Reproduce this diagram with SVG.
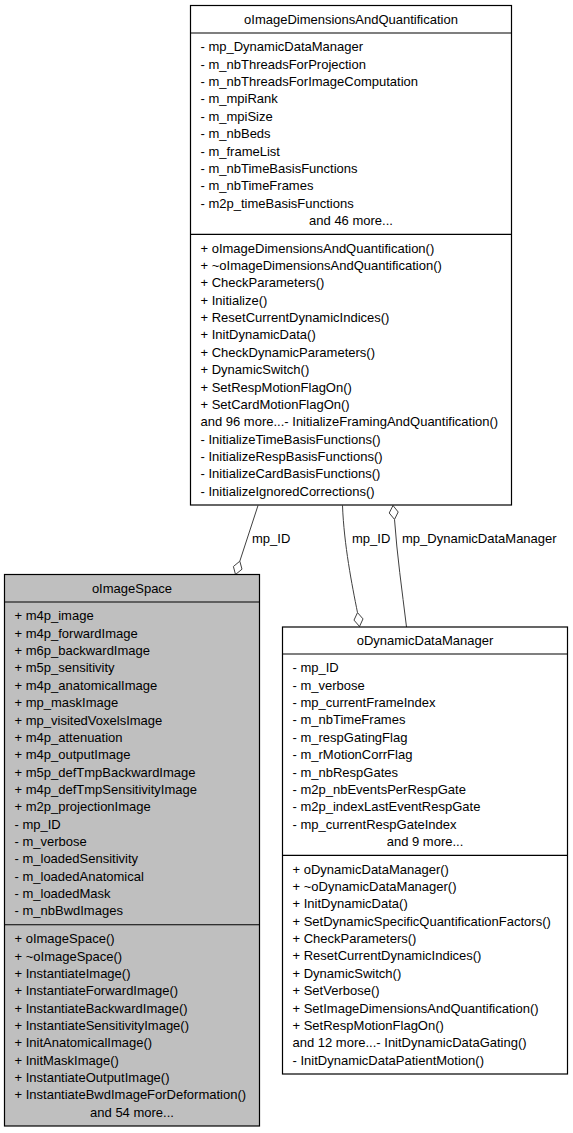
<svg xmlns="http://www.w3.org/2000/svg" width="573" height="1133" viewBox="0 0 573 1133">
<style>
.box{fill:#ffffff;stroke:#000000;stroke-width:1.2}
.cur{fill:#bfbfbf;stroke:#000000;stroke-width:1.2}
.sep{stroke:#000000;stroke-width:1.2}
text{font-family:"Liberation Sans",Arial,Helvetica,sans-serif;font-size:13px;fill:#000000}
.c{text-anchor:middle}
.edge{fill:none;stroke:#404040;stroke-width:1}
.dia{fill:#ffffff;stroke:#404040;stroke-width:1}
</style>
<rect width="573" height="1133" fill="#ffffff"/>
<g id="connectors">
<path class="edge" d="M258,505.5 L239.8,561.2"/>
<polygon class="dia" points="235.5,574.5 242,569.2 239.8,561.2 233.4,566.5"/>
<path class="edge" d="M342.5,505.5 C344,545 352,585 357.5,612.6"/>
<polygon class="dia" points="359.5,626.5 363,618.9 357.5,612.6 354,620.1"/>
<path class="edge" d="M394.5,519.4 C397,555 402,590 406.5,627"/>
<polygon class="dia" points="393,505.5 398.2,512 394.5,519.4 389.2,513"/>
<text x="252" y="542.5">mp_ID</text>
<text x="352" y="542.5">mp_ID</text>
<text x="402" y="542.5">mp_DynamicDataManager</text>
</g>
<g id="oImageDimensionsAndQuantification">
<rect class="box" x="190.5" y="5.5" width="321" height="499.5"/>
<line class="sep" x1="190.5" y1="33" x2="511.5" y2="33"/>
<line class="sep" x1="190.5" y1="234.3" x2="511.5" y2="234.3"/>
<text class="c" x="351" y="23.5">oImageDimensionsAndQuantification</text>
<text x="200.5" y="51.4">- mp_DynamicDataManager</text>
<text x="200.5" y="68.75">- m_nbThreadsForProjection</text>
<text x="200.5" y="86.1">- m_nbThreadsForImageComputation</text>
<text x="200.5" y="103.45">- m_mpiRank</text>
<text x="200.5" y="120.8">- m_mpiSize</text>
<text x="200.5" y="138.15">- m_nbBeds</text>
<text x="200.5" y="155.5">- m_frameList</text>
<text x="200.5" y="172.85">- m_nbTimeBasisFunctions</text>
<text x="200.5" y="190.2">- m_nbTimeFrames</text>
<text x="200.5" y="207.55">- m2p_timeBasisFunctions</text>
<text class="c" x="351" y="224.9">and 46 more...</text>
<text x="200.5" y="252.7">+ oImageDimensionsAndQuantification()</text>
<text x="200.5" y="270.05">+ ~oImageDimensionsAndQuantification()</text>
<text x="200.5" y="287.4">+ CheckParameters()</text>
<text x="200.5" y="304.75">+ Initialize()</text>
<text x="200.5" y="322.1">+ ResetCurrentDynamicIndices()</text>
<text x="200.5" y="339.45">+ InitDynamicData()</text>
<text x="200.5" y="356.8">+ CheckDynamicParameters()</text>
<text x="200.5" y="374.15">+ DynamicSwitch()</text>
<text x="200.5" y="391.5">+ SetRespMotionFlagOn()</text>
<text x="200.5" y="408.85">+ SetCardMotionFlagOn()</text>
<text x="200.5" y="426.2">and 96 more...- InitializeFramingAndQuantification()</text>
<text x="200.5" y="443.55">- InitializeTimeBasisFunctions()</text>
<text x="200.5" y="460.9">- InitializeRespBasisFunctions()</text>
<text x="200.5" y="478.25">- InitializeCardBasisFunctions()</text>
<text x="200.5" y="495.6">- InitializeIgnoredCorrections()</text>
</g>
<g id="oImageSpace">
<rect class="cur" x="4.5" y="574.5" width="255" height="551.5"/>
<line class="sep" x1="4.5" y1="602" x2="259.5" y2="602"/>
<line class="sep" x1="4.5" y1="924.75" x2="259.5" y2="924.75"/>
<text class="c" x="132" y="592.75">oImageSpace</text>
<text x="14.5" y="620.4">+ m4p_image</text>
<text x="14.5" y="637.75">+ m4p_forwardImage</text>
<text x="14.5" y="655.1">+ m6p_backwardImage</text>
<text x="14.5" y="672.45">+ m5p_sensitivity</text>
<text x="14.5" y="689.8">+ m4p_anatomicalImage</text>
<text x="14.5" y="707.15">+ mp_maskImage</text>
<text x="14.5" y="724.5">+ mp_visitedVoxelsImage</text>
<text x="14.5" y="741.85">+ m4p_attenuation</text>
<text x="14.5" y="759.2">+ m4p_outputImage</text>
<text x="14.5" y="776.55">+ m5p_defTmpBackwardImage</text>
<text x="14.5" y="793.9">+ m4p_defTmpSensitivityImage</text>
<text x="14.5" y="811.25">+ m2p_projectionImage</text>
<text x="14.5" y="828.6">- mp_ID</text>
<text x="14.5" y="845.95">- m_verbose</text>
<text x="14.5" y="863.3">- m_loadedSensitivity</text>
<text x="14.5" y="880.65">- m_loadedAnatomical</text>
<text x="14.5" y="898">- m_loadedMask</text>
<text x="14.5" y="915.35">- m_nbBwdImages</text>
<text x="14.5" y="943.15">+ oImageSpace()</text>
<text x="14.5" y="960.5">+ ~oImageSpace()</text>
<text x="14.5" y="977.85">+ InstantiateImage()</text>
<text x="14.5" y="995.2">+ InstantiateForwardImage()</text>
<text x="14.5" y="1012.55">+ InstantiateBackwardImage()</text>
<text x="14.5" y="1029.9">+ InstantiateSensitivityImage()</text>
<text x="14.5" y="1047.25">+ InitAnatomicalImage()</text>
<text x="14.5" y="1064.6">+ InitMaskImage()</text>
<text x="14.5" y="1081.95">+ InstantiateOutputImage()</text>
<text x="14.5" y="1099.3">+ InstantiateBwdImageForDeformation()</text>
<text class="c" x="132" y="1116.65">and 54 more...</text>
</g>
<g id="oDynamicDataManager">
<rect class="box" x="282.5" y="627" width="285" height="447"/>
<line class="sep" x1="282.5" y1="654" x2="567.5" y2="654"/>
<line class="sep" x1="282.5" y1="855.3" x2="567.5" y2="855.3"/>
<text class="c" x="425" y="645">oDynamicDataManager</text>
<text x="292.5" y="672.4">- mp_ID</text>
<text x="292.5" y="689.75">- m_verbose</text>
<text x="292.5" y="707.1">- mp_currentFrameIndex</text>
<text x="292.5" y="724.45">- m_nbTimeFrames</text>
<text x="292.5" y="741.8">- m_respGatingFlag</text>
<text x="292.5" y="759.15">- m_rMotionCorrFlag</text>
<text x="292.5" y="776.5">- m_nbRespGates</text>
<text x="292.5" y="793.85">- m2p_nbEventsPerRespGate</text>
<text x="292.5" y="811.2">- m2p_indexLastEventRespGate</text>
<text x="292.5" y="828.55">- mp_currentRespGateIndex</text>
<text class="c" x="425" y="845.9">and 9 more...</text>
<text x="292.5" y="873.7">+ oDynamicDataManager()</text>
<text x="292.5" y="891.05">+ ~oDynamicDataManager()</text>
<text x="292.5" y="908.4">+ InitDynamicData()</text>
<text x="292.5" y="925.75">+ SetDynamicSpecificQuantificationFactors()</text>
<text x="292.5" y="943.1">+ CheckParameters()</text>
<text x="292.5" y="960.45">+ ResetCurrentDynamicIndices()</text>
<text x="292.5" y="977.8">+ DynamicSwitch()</text>
<text x="292.5" y="995.15">+ SetVerbose()</text>
<text x="292.5" y="1012.5">+ SetImageDimensionsAndQuantification()</text>
<text x="292.5" y="1029.85">+ SetRespMotionFlagOn()</text>
<text x="292.5" y="1047.2">and 12 more...- InitDynamicDataGating()</text>
<text x="292.5" y="1064.55">- InitDynamicDataPatientMotion()</text>
</g>
</svg>
